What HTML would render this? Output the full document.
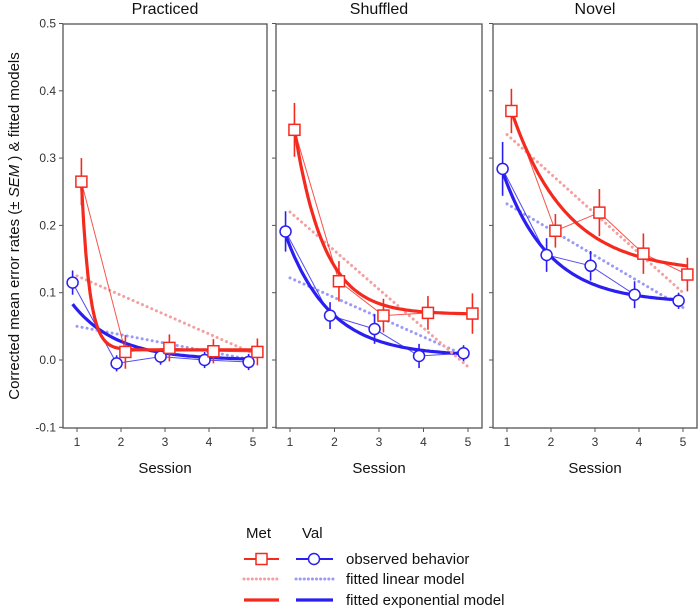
<!DOCTYPE html>
<html><head><meta charset="utf-8"><style>
body{margin:0;background:#fff;}
svg{display:block;font-family:"Liberation Sans",sans-serif;}
</style></head><body>
<svg id="chart" width="700" height="610"></svg>
<script>
const panels=["Practiced","Shuffled","Novel"];
const sessions=[1,2,3,4,5];
const metObs=[[0.265,0.012,0.018,0.013,0.012],[0.342,0.117,0.066,0.070,0.069],[0.370,0.192,0.219,0.158,0.127]];
const metErr=[[0.035,0.025,0.02,0.018,0.02],[0.04,0.03,0.025,0.025,0.03],[0.033,0.025,0.035,0.03,0.025]];
const valObs=[[0.115,-0.005,0.005,0.000,-0.003],[0.191,0.066,0.046,0.006,0.010],[0.284,0.156,0.140,0.097,0.088]];
const valErr=[[0.018,0.012,0.012,0.012,0.012],[0.03,0.02,0.022,0.018,0.012],[0.04,0.025,0.022,0.02,0.012]];
// linear fits: [value at session 1, value at session 5]
const metLin=[[0.125,0.01],[0.22,-0.01],[0.335,0.10]];
const valLin=[[0.05,0.0],[0.122,0.005],[0.232,0.078]];
// exponential fits: [asymptote, amplitude, rate]
const metExp=[[0.015,0.25,5.5],[0.068,0.275,1.5],[0.13,0.24,0.8]];
const valExp=[[0.0,0.083,1.0],[0.006,0.18,1.0],[0.085,0.195,0.95]];
const yTicks=[-0.1,0.0,0.1,0.2,0.3,0.4,0.5];

const NS="http://www.w3.org/2000/svg";
const svg=document.getElementById('chart');
function mk(tag,attrs,parent){const e=document.createElementNS(NS,tag);for(const k in attrs)e.setAttribute(k,attrs[k]);(parent||svg).appendChild(e);return e;}
const panelX=[[63,267],[276,482],[493,697]];
const plotTop=24,plotBottom=428;
function y(v){return 360-v*673;}
const RED="#f42a1f",BLUE="#2a1ff0";

panels.forEach((p,i)=>{
  const x0=panelX[i][0],x1=panelX[i][1];
  const g=mk('g',{});
  
  
  function x(s){return x0+14+(s-1)*(x1-x0-28)/4;}
  const t=mk('text',{x:(x0+x1)/2,y:14,'text-anchor':'middle','font-size':16,fill:'#111'},g);
  t.textContent=p;
  
  
  const r=mk('rect',{x:x0,y:plotTop,width:x1-x0,height:plotBottom-plotTop,fill:'none',stroke:'#555','stroke-width':1.3},g);
  
  
  yTicks.forEach(v=>{
    mk('line',{x1:x0-4,x2:x0,y1:y(v),y2:y(v),stroke:'#555'},g);
    if(i===0){const l=mk('text',{x:x0-7,y:y(v)+4,'text-anchor':'end','font-size':12,fill:'#333'},g);l.textContent=v.toFixed(1);
      
      }
  });
  sessions.forEach(s=>{
    mk('line',{x1:x(s),x2:x(s),y1:plotBottom,y2:plotBottom+4,stroke:'#555'},g);
    const l=mk('text',{x:x(s),y:446,'text-anchor':'middle','font-size':12,fill:'#333'},g);l.textContent=s;
    
    
  });
  const xl=mk('text',{x:(x0+x1)/2,y:473,'text-anchor':'middle','font-size':15,fill:'#111'},g);xl.textContent='Session';
  
  

  function series(obs,err,lin,ex,col,off,linCol,shape,nm){
    const ll=mk('line',{x1:x(1),y1:y(lin[0]),x2:x(5),y2:y(lin[1]),stroke:linCol,'stroke-width':3,'stroke-dasharray':'0.1 5','stroke-linecap':'round'},g);
    
    
    let d='';
    for(let k=0;k<=80;k++){const ss=1+off+k/80*4;const v=ex[0]+ex[1]*Math.exp(-ex[2]*(ss-1-off));d+=(k?'L':'M')+x(ss).toFixed(1)+','+y(v).toFixed(1);}
    const ep=mk('path',{d:d,fill:'none',stroke:col,'stroke-width':3.2},g);
    
    
    const pts=obs.map((v,k)=>x(sessions[k]+off).toFixed(1)+','+y(v).toFixed(1)).join(' ');
    const pl=mk('polyline',{points:pts,fill:'none',stroke:col,'stroke-width':1,opacity:0.8},g);
    
    
    obs.forEach((v,k)=>{
      const cx=x(sessions[k]+off),cy=y(v);
      const eb=mk('line',{x1:cx,x2:cx,y1:y(v+err[k]),y2:y(v-err[k]),stroke:col,'stroke-width':1.6},g);
      
      
      let m;
      if(shape==='sq')m=mk('rect',{x:cx-5.5,y:cy-5.5,width:11,height:11,fill:'#fff',stroke:col,'stroke-width':1.5},g);
      else m=mk('circle',{cx:cx,cy:cy,r:5.5,fill:'#fff',stroke:col,'stroke-width':1.5},g);
      
      
    });
  }
  series(valObs[i],valErr[i],valLin[i],valExp[i],BLUE,-0.1,'#9a9af8','c','val');
  series(metObs[i],metErr[i],metLin[i],metExp[i],RED,0.1,'#f4a0a0','sq','met');
});
const yl=mk('text',{x:0,y:0,transform:'translate(19,226) rotate(-90)','text-anchor':'middle','font-size':15,fill:'#111'});
yl.appendChild(document.createTextNode('Corrected mean error rates (± '));
const it=mk('tspan',{'font-style':'italic'},yl);it.textContent='SEM';
yl.appendChild(document.createTextNode(' ) & fitted models'));



const lg=mk('g',{});


const h1=mk('text',{x:246,y:538,'font-size':15,fill:'#111'},lg);h1.textContent='Met';


const h2=mk('text',{x:302,y:538,'font-size':15,fill:'#111'},lg);h2.textContent='Val';


const rows=[['observed behavior',559],['fitted linear model',579],['fitted exponential model',600]];
rows.forEach((r,k)=>{
  const yy=r[1];
  if(k===0){
    mk('line',{x1:244,x2:279,y1:yy,y2:yy,stroke:RED,'stroke-width':2},lg);
    mk('rect',{x:256,y:yy-5.5,width:11,height:11,fill:'#fff',stroke:RED,'stroke-width':1.5},lg);
    mk('line',{x1:296,x2:333,y1:yy,y2:yy,stroke:BLUE,'stroke-width':2},lg);
    mk('circle',{cx:314,cy:yy,r:5.5,fill:'#fff',stroke:BLUE,'stroke-width':1.5},lg);
  }else if(k===1){
    mk('line',{x1:244,x2:279,y1:yy,y2:yy,stroke:'#f4a0a0','stroke-width':3,'stroke-dasharray':'0.1 4','stroke-linecap':'round'},lg);
    mk('line',{x1:296,x2:333,y1:yy,y2:yy,stroke:'#9a9af8','stroke-width':3,'stroke-dasharray':'0.1 4','stroke-linecap':'round'},lg);
  }else{
    mk('line',{x1:244,x2:279,y1:yy,y2:yy,stroke:RED,'stroke-width':3.2},lg);
    mk('line',{x1:296,x2:333,y1:yy,y2:yy,stroke:BLUE,'stroke-width':3.2},lg);
  }
  const t=mk('text',{x:346,y:yy+5,'font-size':15,fill:'#111'},lg);t.textContent=r[0];
  
  
});
</script>
</body></html>
